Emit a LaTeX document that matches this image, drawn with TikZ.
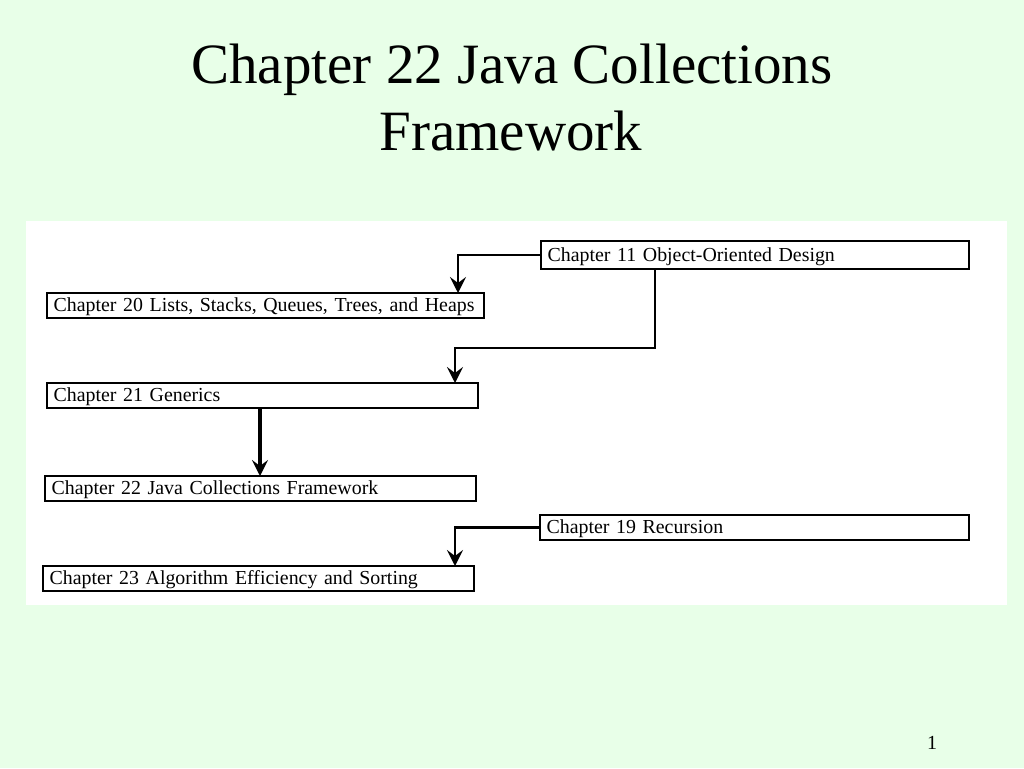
\documentclass[tikz,border=0pt]{standalone}
\usepackage{fontspec}
\setmainfont{Liberation Serif}
\usetikzlibrary{arrows.meta}
\definecolor{bggreen}{RGB}{232,255,232}
\tikzset{
  box/.style={draw, line width=1.5pt, fill=white, anchor=north west, outer sep=0pt,
    inner xsep=5pt, inner ysep=0pt, align=left,
    font=\fontsize{14.9}{17}\selectfont, text height=0.95em, text depth=0.05em},
  conn/.style={line width=2pt, -{Stealth[length=12pt, width=12pt, inset=4.5pt]}},
  titletext/.style={anchor=base, font=\fontsize{42.75}{50}\selectfont, inner sep=0pt},
}
\begin{document}
\begin{tikzpicture}[x=0.75pt, y=-0.75pt]
\useasboundingbox (0,0) rectangle (1024,768);
\fill[bggreen] (0,0) rectangle (1024,768);
\fill[white] (26,221) rectangle (1007,605);
\node[titletext] (t1) at (512,83) {Chapter 22 Java Collections};
\node[titletext] (t2) at (511,150) {Framework};
\node[anchor=base, inner sep=0pt, font=\fontsize{15}{18}\selectfont] (pg) at (932,749) {1};
% boxes
\node[box, text width=311pt, minimum height=21pt] (c11) at (541,241) {\mbox{Chapter 11 Object-Oriented Design}};
\node[box, text width=317.75pt, minimum height=18.75pt] (c20) at (47,293) {\mbox{Chapter 20 Lists, Stacks, Queues, Trees, and Heaps}};
\node[box, text width=313.25pt, minimum height=18.75pt] (c21) at (47,383) {\mbox{Chapter 21 Generics}};
\node[box, text width=313.25pt, minimum height=18.75pt] (c22) at (45,476) {\mbox{Chapter 22 Java Collections Framework}};
\node[box, text width=311.75pt, minimum height=18.75pt] (c19) at (540,515) {\mbox{Chapter 19 Recursion}};
\node[box, text width=313.25pt, minimum height=18.75pt] (c23) at (43,566) {\mbox{Chapter 23 Algorithm Efficiency and Sorting}};
% connector helper points
\coordinate (j1) at (458,0);
\coordinate (b1) at (655,348);
\coordinate (b2) at (455,348);
\coordinate (d1) at (260,0);
\coordinate (e1) at (455,0);
% connectors
\draw[conn] (c11.west) -| (c20.north -| j1);
\draw[conn] (c11.south -| b1) -- (b1) -| (c21.north -| b2);
\draw[conn, line width=2.4pt] (c21.south -| d1) -- (c22.north -| d1);
\draw[conn] (c19.west) -| (c23.north -| e1);
\end{tikzpicture}
\end{document}
